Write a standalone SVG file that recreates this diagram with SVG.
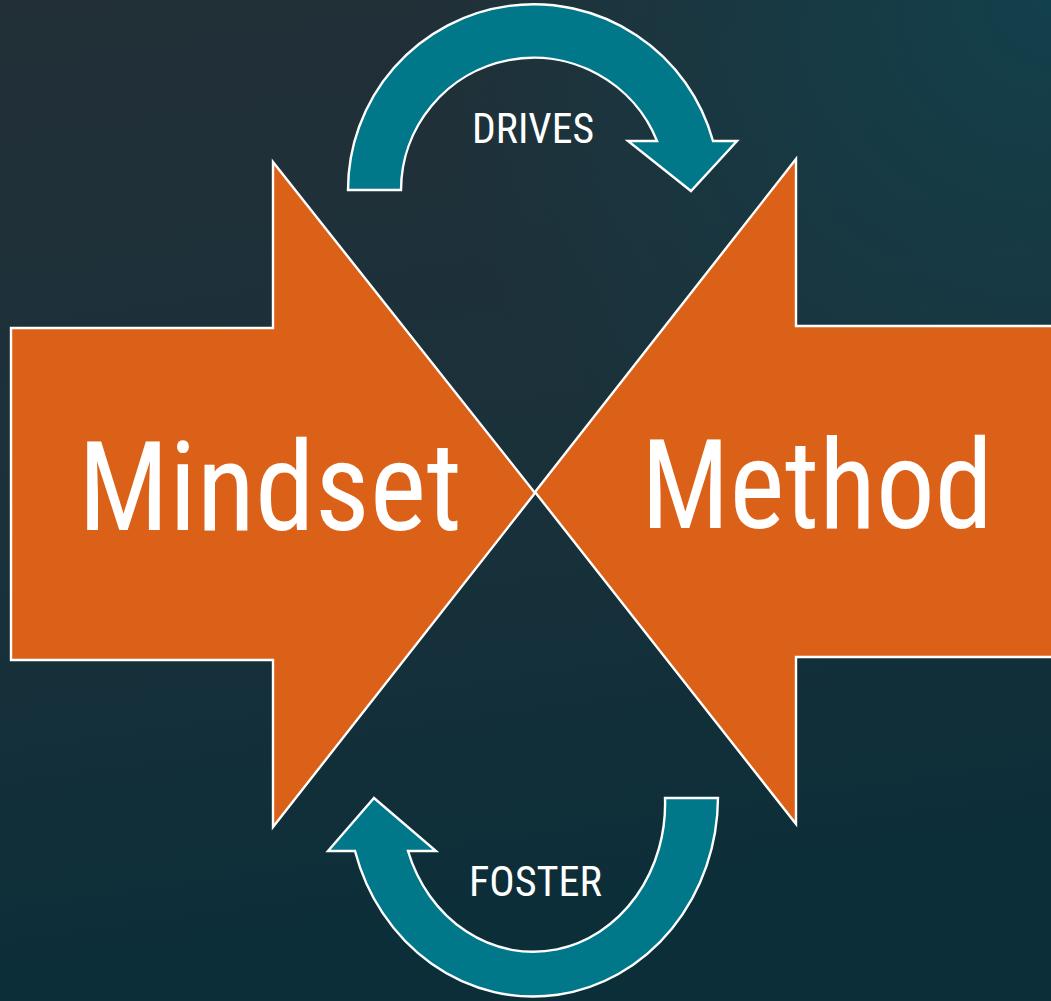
<svg xmlns="http://www.w3.org/2000/svg" width="1051" height="1001" viewBox="0 0 1051 1001">
  <defs>
    <linearGradient id="bg" x1="0" y1="0" x2="0.15" y2="1">
      <stop offset="0" stop-color="#222F37"/>
      <stop offset="0.5" stop-color="#1B313A"/>
      <stop offset="1" stop-color="#0B2E39"/>
    </linearGradient>
    <radialGradient id="tint" cx="1" cy="0" r="0.6">
      <stop offset="0" stop-color="#12404B" stop-opacity="1"/>
      <stop offset="1" stop-color="#12404B" stop-opacity="0"/>
    </radialGradient>
    <style>
      .big { fill: #DC6118; stroke: #FFFFFF; stroke-width: 2.4; stroke-linejoin: miter; }
      .curve { fill: #00788A; stroke: #FFFFFF; stroke-width: 2.4; stroke-linejoin: miter; }
      .label { font-family: "Roboto Condensed", Roboto, "Liberation Sans", sans-serif; fill: #FFFFFF; }
    </style>
  </defs>
  <rect width="1051" height="1001" fill="url(#bg)"/>
  <rect width="1051" height="1001" fill="url(#tint)"/>

  <g id="mindset">
    <path class="big" d="M11,328 L273,328 L273,162 L535,493 L273,827 L273,660 L11,660 Z"/>
    <text class="label" x="78" y="530" font-size="125" textLength="384" lengthAdjust="spacingAndGlyphs">Mindset</text>
  </g>

  <g id="method">
    <path class="big" d="M1060,326 L796,326 L796,159 L535,492 L796,824 L796,657 L1060,657 Z"/>
    <text class="label" x="641" y="528" font-size="125" textLength="352" lengthAdjust="spacingAndGlyphs">Method</text>
  </g>

  <g id="connectors">
    <g id="drives">
      <path class="curve" d="M348,190 A185.8,185.8 0 0 1 713,141 L737,141 L691,191 L628,141 L657,141 A132.8,132.8 0 0 0 401,190 Z"/>
      <text class="label" x="472" y="143" font-size="42" textLength="122" lengthAdjust="spacingAndGlyphs">DRIVES</text>
    </g>
    <g id="foster">
      <path class="curve" d="M718,798 A185,200 0 0 1 355,851 L328,851 L374,798 L436,851 L408,851 A132,148 0 0 0 665,798 Z"/>
      <text class="label" x="469" y="896" font-size="42" textLength="133" lengthAdjust="spacingAndGlyphs">FOSTER</text>
    </g>
  </g>
</svg>
